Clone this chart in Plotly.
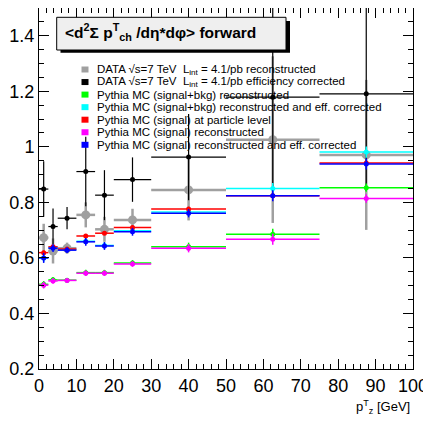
import plotly.graph_objects as go

# ---------------- data ----------------
bin_edges = [0, 2.5, 5, 10, 15, 20, 30, 50, 75, 100]

data_reco = [0.673, 0.625, 0.635, 0.755, 0.703, 0.737, 0.845, 1.026, 0.971]
data_reco_err = [0.05, 0.045, 0.02, 0.045, 0.045, 0.04, 0.11, 0.30, 0.27]

data_corr = [0.848, 0.713, 0.743, 0.911, 0.826, 0.882, 0.963, 1.179, 1.191]
data_corr_err = [0.10, 0.065, 0.04, 0.125, 0.09, 0.08, 0.155, 0.33, 0.35]

mc_sb_reco = [0.505, 0.521, 0.520, 0.547, 0.547, 0.582, 0.640, 0.685, 0.853]
mc_sb_reco_err = [0.012, 0.01, 0.008, 0.01, 0.01, 0.01, 0.015, 0.02, 0.015]

mc_sb_corr = [0.600, 0.637, 0.630, 0.660, 0.645, 0.698, 0.765, 0.850, 0.981]
mc_sb_corr_err = [0.015, 0.012, 0.01, 0.012, 0.012, 0.012, 0.015, 0.02, 0.02]

mc_s_part = [0.619, 0.640, 0.632, 0.679, 0.689, 0.710, 0.776, 0.824, 0.942]
mc_s_part_err = [0.008, 0.006, 0.005, 0.006, 0.006, 0.006, 0.008, 0.01, 0.01]

mc_s_reco = [0.502, 0.517, 0.519, 0.545, 0.545, 0.578, 0.635, 0.667, 0.814]
mc_s_reco_err = [0.012, 0.01, 0.008, 0.01, 0.01, 0.01, 0.015, 0.02, 0.015]

mc_s_corr = [0.600, 0.635, 0.628, 0.658, 0.643, 0.694, 0.761, 0.824, 0.938]
mc_s_corr_err = [0.018, 0.014, 0.01, 0.014, 0.014, 0.014, 0.015, 0.02, 0.02]

legend_labels = [
    "DATA √s=7 TeV  L<sub>int</sub> = 4.1/pb reconstructed",
    "DATA √s=7 TeV  L<sub>int</sub> = 4.1/pb efficiency corrected",
    "Pythia MC (signal+bkg) reconstructed",
    "Pythia MC (signal+bkg) reconstructed and eff. corrected",
    "Pythia MC (signal) at particle level",
    "Pythia MC (signal) reconstructed",
    "Pythia MC (signal) reconstructed and eff. corrected",
]
colors = ["#a0a0a0", "#000000", "#00ff00", "#00ffff", "#ff0000", "#ff00ff", "#0000ff"]

title_text = "&lt;d<sup>2</sup>Σ p<sup>T</sup><sub>ch</sub> /dη*dφ&gt; forward"
x_title = "p<sup>T</sup><sub>z</sub> [GeV]"

# ---------------- derived bin geometry ----------------
centers = [(a + b) / 2 for a, b in zip(bin_edges[:-1], bin_edges[1:])]
halfw = [(b - a) / 2 for a, b in zip(bin_edges[:-1], bin_edges[1:])]

# page is 431x424; the html body has an 8px margin
OFF = 8
W, H = 431 - OFF, 424 - OFF
# plot frame in page pixels: x 39..413, y 8..369
FX0, FX1, FY0, FY1 = 39, 413, 8, 369
ML, MR, MT, MB = FX0 - OFF, (431 - FX1), FY0 - OFF, (424 - FY1)
PW, PH = FX1 - FX0, FY1 - FY0


def px(x):
    """page x pixel -> paper coordinate"""
    return (x - FX0) / PW


def py(y):
    """page y pixel -> paper coordinate"""
    return (FY1 - y) / PH


fig = go.Figure()

series = [
    (data_reco, data_reco_err, colors[0], 9, 2.5),
    (data_corr, data_corr_err, colors[1], 5, 1.2),
    (mc_sb_reco, mc_sb_reco_err, colors[2], 5, 1.5),
    (mc_sb_corr, mc_sb_corr_err, colors[3], 5, 1.5),
    (mc_s_part, mc_s_part_err, colors[4], 5, 1.5),
    (mc_s_reco, mc_s_reco_err, colors[5], 5, 1.5),
    (mc_s_corr, mc_s_corr_err, colors[6], 5, 1.5),
]

for vals, errs, col, msize, lw in series:
    fig.add_trace(go.Scatter(
        x=centers, y=vals, mode="markers",
        marker=dict(color=col, size=msize, symbol="circle"),
        error_x=dict(type="data", array=halfw, color=col, thickness=lw, width=0),
        error_y=dict(type="data", array=errs, color=col, thickness=lw, width=0),
        showlegend=False, cliponaxis=True,
    ))

axis_common = dict(
    showgrid=False, zeroline=False, showline=True, linecolor="black", linewidth=1,
    mirror="allticks", ticks="inside", tickcolor="black", automargin=False,
    tickfont=dict(family="Liberation Sans, Arial", size=18, color="black"),
)

fig.update_xaxes(range=[0, 100], dtick=10, tick0=0, ticklen=10,
                 minor=dict(dtick=2, ticklen=5, ticks="inside", tickcolor="black"),
                 **axis_common)
fig.update_yaxes(range=[0.2, 1.5], dtick=0.2, tick0=0.2, ticklen=10,
                 minor=dict(dtick=0.05, ticklen=5, ticks="inside", tickcolor="black"),
                 **axis_common)

shapes = []
annotations = []

# title box with shadow
shapes.append(dict(type="rect", xref="paper", yref="paper",
                   x0=px(60.5), x1=px(290), y0=py(52.7), y1=py(21),
                   fillcolor="black", line=dict(width=0), layer="above"))
shapes.append(dict(type="rect", xref="paper", yref="paper",
                   x0=px(56.7), x1=px(286), y0=py(50), y1=py(17.3),
                   fillcolor="#efefef", line=dict(color="black", width=1), layer="above"))
annotations.append(dict(xref="paper", yref="paper", x=px(63), y=py(32),
                        xanchor="left", yanchor="middle", showarrow=False,
                        text="<b>" + title_text + "</b>",
                        font=dict(family="Liberation Sans, Arial", size=15.5, color="black")))

# legend
leg_y0, leg_dy = 69.5, 12.55
for i, (lab, col) in enumerate(zip(legend_labels, colors)):
    yc = leg_y0 + i * leg_dy
    shapes.append(dict(type="rect", xref="paper", yref="paper",
                       x0=px(81.5), x1=px(88.5), y0=py(yc + 3), y1=py(yc - 3),
                       fillcolor=col, line=dict(width=0), layer="above"))
    annotations.append(dict(xref="paper", yref="paper", x=px(94.5), y=py(yc),
                            xanchor="left", yanchor="middle", showarrow=False,
                            text=lab,
                            font=dict(family="Liberation Sans, Arial", size=11.5, color="black")))

# x-axis title
annotations.append(dict(xref="paper", yref="paper", x=px(412), y=py(407),
                        xanchor="right", yanchor="middle", showarrow=False,
                        text=x_title,
                        font=dict(family="Liberation Sans, Arial", size=13, color="black")))

fig.update_layout(
    width=W, height=H,
    margin=dict(l=ML, r=MR, t=MT, b=MB, pad=0),
    paper_bgcolor="white", plot_bgcolor="white",
    showlegend=False,
    shapes=shapes, annotations=annotations,
)

fig.write_html("out.html")
